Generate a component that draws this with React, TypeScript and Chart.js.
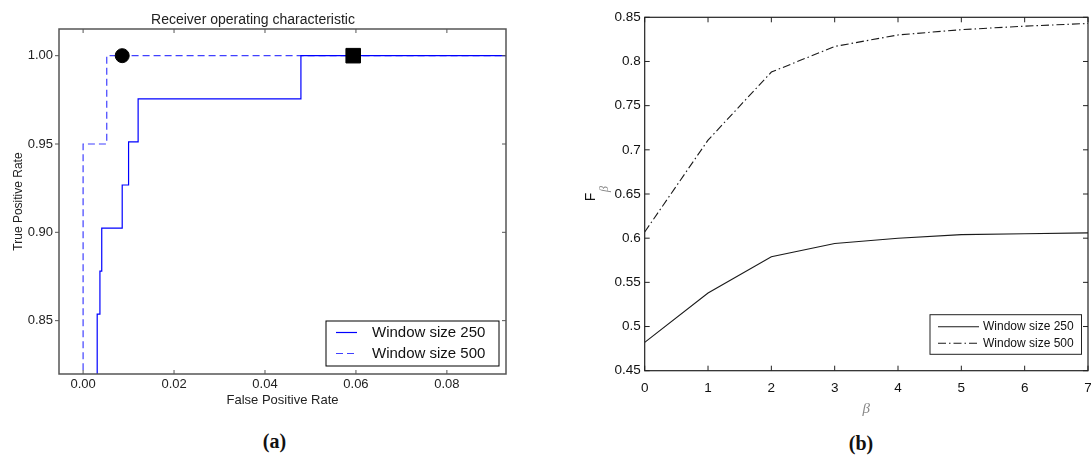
import React, { useEffect, useRef } from 'react';
import { Chart, registerables } from 'chart.js';

Chart.register(...registerables);

// ---------- (a) ROC data ----------
const rocFpr250 = [0, 0.0031, 0.0037, 0.0041, 0.0086, 0.0100, 0.0121, 0.0479, 1.0];
const rocTpr250 = [0, 0.8537, 0.8780, 0.9024, 0.9268, 0.9512, 0.9756, 1.0, 1.0];
const rocFpr500 = [0, 0, 0.0052, 1.0];
const rocTpr500 = [0, 0.95, 1.0, 1.0];
const circleMarkerFpr = [0.0086];
const circleMarkerTpr = [1.0];
const squareMarkerFpr = [0.0594];
const squareMarkerTpr = [1.0];
const rocXTicks = [0, 0.02, 0.04, 0.06, 0.08];
const rocYTicks = [0.85, 0.9, 0.95, 1.0];
const rocLabels = ['Window size 250', 'Window size 500'];

// ---------- (b) F-beta data ----------
const betaValues = [0, 1, 2, 3, 4, 5, 6, 7];
const fbeta250 = [0.482, 0.538, 0.579, 0.594, 0.600, 0.604, 0.605, 0.606];
const fbeta500 = [0.607, 0.711, 0.788, 0.817, 0.830, 0.836, 0.840, 0.843];
const betaTicks = [0, 1, 2, 3, 4, 5, 6, 7];
const fbetaYTicks = [0.45, 0.5, 0.55, 0.6, 0.65, 0.7, 0.75, 0.8, 0.85];
const fbetaLabels = ['Window size 250', 'Window size 500'];

const FONT = "'Liberation Sans', Arial, sans-serif";

const zip = (xs: number[], ys: number[]) => xs.map((x, i) => ({ x, y: ys[i] }));

const frameTicksPlugin = {
  id: 'frameTicks',
  afterDatasetsDraw(chart: any, _args: any, opts: any) {
    const { ctx, chartArea: ca } = chart;
    const xs = chart.scales.x;
    const ys = chart.scales.y;
    ctx.save();
    ctx.strokeStyle = opts.color;
    ctx.lineWidth = opts.width;
    ctx.strokeRect(ca.left, ca.top, ca.right - ca.left, ca.bottom - ca.top);
    ctx.lineWidth = opts.tickWidth;
    ctx.beginPath();
    xs.ticks.forEach((t: any) => {
      const px = xs.getPixelForValue(t.value);
      ctx.moveTo(px, ca.bottom);
      ctx.lineTo(px, ca.bottom - opts.len);
      ctx.moveTo(px, ca.top);
      ctx.lineTo(px, ca.top + opts.len);
    });
    ys.ticks.forEach((t: any) => {
      const py = ys.getPixelForValue(t.value);
      ctx.moveTo(ca.right, py);
      ctx.lineTo(ca.right - opts.len, py);
      ctx.moveTo(ca.left, py);
      ctx.lineTo(opts.leftOutward ? ca.left - opts.len : ca.left + opts.len, py);
    });
    ctx.stroke();
    ctx.restore();
  },
};

const boxLegendPlugin = {
  id: 'boxLegend',
  afterDraw(chart: any, _args: any, opts: any) {
    const { ctx, chartArea: ca } = chart;
    const right = ca.right - opts.offRight;
    const bottom = ca.bottom - opts.offBottom;
    const left = right - opts.w;
    const top = bottom - opts.h;
    ctx.save();
    ctx.fillStyle = '#ffffff';
    ctx.fillRect(left, top, opts.w, opts.h);
    ctx.strokeStyle = opts.borderColor;
    ctx.lineWidth = 1;
    ctx.strokeRect(left, top, opts.w, opts.h);
    const items = chart.data.datasets.filter((d: any) => d.inLegend);
    items.sort((a: any, b: any) => a.legendIndex - b.legendIndex);
    items.forEach((d: any, i: number) => {
      const y = top + opts.rows[i];
      ctx.beginPath();
      ctx.strokeStyle = d.borderColor;
      ctx.lineWidth = d.borderWidth;
      ctx.setLineDash(d.borderDash || []);
      ctx.moveTo(left + opts.lineX0, y);
      ctx.lineTo(left + opts.lineX1, y);
      ctx.stroke();
      ctx.setLineDash([]);
      ctx.fillStyle = opts.textColor;
      ctx.font = `${opts.fontSize}px ${FONT}`;
      ctx.textBaseline = 'middle';
      ctx.textAlign = 'left';
      ctx.fillText(d.label, left + opts.textX, y);
    });
    ctx.restore();
  },
};

const fbetaTitlePlugin = {
  id: 'fbetaTitle',
  afterDraw(chart: any, _args: any, opts: any) {
    const { ctx } = chart;
    ctx.save();
    ctx.translate(opts.x, opts.y);
    ctx.rotate(-Math.PI / 2);
    ctx.textAlign = 'center';
    ctx.textBaseline = 'middle';
    ctx.fillStyle = '#111';
    ctx.font = `14px ${FONT}`;
    ctx.fillText('F', 0, 0);
    ctx.fillStyle = '#888';
    ctx.font = `italic 12px 'Liberation Serif', serif`;
    ctx.fillText('β', 8, 13);
    ctx.restore();
  },
};

function RocChart() {
  const ref = useRef<HTMLCanvasElement>(null);
  useEffect(() => {
    const chart = new Chart(ref.current as HTMLCanvasElement, {
      type: 'line',
      data: {
        datasets: [
          {
            label: 'circle',
            data: zip(circleMarkerFpr, circleMarkerTpr),
            showLine: false,
            pointStyle: 'circle',
            pointRadius: 7,
            pointBackgroundColor: '#000',
            pointBorderColor: '#000',
            borderColor: '#000',
          },
          {
            label: 'square',
            data: zip(squareMarkerFpr, squareMarkerTpr),
            showLine: false,
            pointStyle: 'rect',
            pointRadius: 10.3,
            pointBackgroundColor: '#000',
            pointBorderColor: '#000',
            borderColor: '#000',
          },
          {
            label: rocLabels[0],
            inLegend: true,
            legendIndex: 0,
            data: zip(rocFpr250, rocTpr250),
            stepped: 'before',
            borderColor: '#0000ff',
            borderWidth: 1.2,
            pointRadius: 0,
            fill: false,
          },
          {
            label: rocLabels[1],
            inLegend: true,
            legendIndex: 1,
            data: zip(rocFpr500, rocTpr500),
            stepped: 'before',
            borderColor: '#4040ff',
            borderWidth: 1.2,
            borderDash: [7, 4],
            pointRadius: 0,
            fill: false,
          },
        ] as any,
      },
      options: {
        animation: false,
        responsive: false,
        maintainAspectRatio: false,
        layout: { padding: { top: 0, right: 24, bottom: 0, left: 0 } },
        scales: {
          x: {
            type: 'linear',
            min: -0.0053,
            max: 0.093,
            afterBuildTicks: (s: any) => { s.ticks = rocXTicks.map((v) => ({ value: v })); },
            afterFit: (s: any) => { s.height = 41; s.paddingLeft = 0; s.paddingRight = 0; },
            grid: { display: false, drawTicks: false },
            border: { display: false },
            ticks: {
              font: { family: FONT, size: 13 },
              color: '#222',
              padding: 3,
              maxRotation: 0,
              autoSkip: false,
              callback: (v: any) => Number(v).toFixed(2),
            },
            title: {
              display: true,
              text: 'False Positive Rate',
              color: '#222',
              font: { family: FONT, size: 13 },
              padding: { top: 0, bottom: 7 },
            },
          },
          y: {
            type: 'linear',
            min: 0.8198,
            max: 1.0151,
            afterBuildTicks: (s: any) => { s.ticks = rocYTicks.map((v) => ({ value: v })); },
            afterFit: (s: any) => { s.width = 59; s.paddingTop = 0; s.paddingBottom = 0; },
            grid: { display: false, drawTicks: false },
            border: { display: false },
            ticks: {
              font: { family: FONT, size: 13 },
              color: '#222',
              padding: 6,
              autoSkip: false,
              callback: (v: any) => Number(v).toFixed(2),
            },
            title: {
              display: true,
              text: 'True Positive Rate',
              color: '#222',
              font: { family: FONT, size: 12 },
              padding: { top: 11, bottom: 0 },
            },
          },
        },
        plugins: {
          legend: { display: false },
          tooltip: { enabled: false },
          title: {
            display: true,
            text: 'Receiver operating characteristic',
            color: '#222',
            font: { family: FONT, size: 14, weight: 'normal' },
            padding: { top: 11.6, bottom: 0.6 },
          },
          frameTicks: { color: '#555', width: 1.5, tickWidth: 1, len: 4, leftOutward: true },
          boxLegend: {
            offRight: 7, offBottom: 8, w: 173, h: 45,
            rows: [11.5, 32.5], lineX0: 10, lineX1: 31, textX: 46,
            fontSize: 15, textColor: '#111', borderColor: '#000',
          },
        } as any,
      },
      plugins: [frameTicksPlugin, boxLegendPlugin],
    } as any);
    return () => chart.destroy();
  }, []);
  return (
    <canvas
      ref={ref}
      width={530}
      height={415}
      style={{ position: 'absolute', left: 0, top: 0, width: 530, height: 415 }}
    />
  );
}

function FbetaChart() {
  const ref = useRef<HTMLCanvasElement>(null);
  useEffect(() => {
    const chart = new Chart(ref.current as HTMLCanvasElement, {
      type: 'line',
      data: {
        datasets: [
          {
            label: fbetaLabels[0],
            inLegend: true,
            legendIndex: 0,
            data: zip(betaValues, fbeta250),
            borderColor: '#1a1a1a',
            borderWidth: 1.1,
            pointRadius: 0,
            tension: 0,
            fill: false,
          },
          {
            label: fbetaLabels[1],
            inLegend: true,
            legendIndex: 1,
            data: zip(betaValues, fbeta500),
            borderColor: '#1a1a1a',
            borderWidth: 1.1,
            borderDash: [8, 3, 1.5, 3],
            pointRadius: 0,
            tension: 0,
            fill: false,
          },
        ] as any,
      },
      options: {
        animation: false,
        responsive: false,
        maintainAspectRatio: false,
        layout: { padding: { top: 17.3, right: 3, bottom: 0, left: 0 } },
        scales: {
          x: {
            type: 'linear',
            min: 0,
            max: 7,
            afterBuildTicks: (s: any) => { s.ticks = betaTicks.map((v) => ({ value: v })); },
            afterFit: (s: any) => { s.height = 49.3; s.paddingLeft = 0; s.paddingRight = 0; },
            grid: { display: false, drawTicks: false },
            border: { display: false },
            ticks: {
              font: { family: FONT, size: 13.5 },
              color: '#111',
              padding: 9,
              maxRotation: 0,
              autoSkip: false,
              callback: (v: any) => String(v),
            },
            title: {
              display: true,
              text: 'β',
              color: '#888',
              font: { family: "'Liberation Serif', serif", size: 15, style: 'italic' },
              padding: { top: 0, bottom: 2 },
            },
          },
          y: {
            type: 'linear',
            min: 0.45,
            max: 0.85,
            afterBuildTicks: (s: any) => { s.ticks = fbetaYTicks.map((v) => ({ value: v })); },
            afterFit: (s: any) => { s.width = 104.7; s.paddingTop = 0; s.paddingBottom = 0; },
            grid: { display: false, drawTicks: false },
            border: { display: false },
            ticks: {
              font: { family: FONT, size: 13.5 },
              color: '#111',
              padding: 4,
              autoSkip: false,
              callback: (v: any) => String(Number(Number(v).toFixed(2))),
            },
          },
        },
        plugins: {
          legend: { display: false },
          tooltip: { enabled: false },
          frameTicks: { color: '#222', width: 1.2, tickWidth: 1, len: 5, leftOutward: false },
          boxLegend: {
            offRight: 6.5, offBottom: 16.4, w: 151.5, h: 39.6,
            rows: [12, 28.6], lineX0: 8, lineX1: 49, textX: 53,
            fontSize: 12, textColor: '#111', borderColor: '#222',
          },
          fbetaTitle: { x: 51.5, y: 197 },
        } as any,
      },
      plugins: [frameTicksPlugin, boxLegendPlugin, fbetaTitlePlugin],
    } as any);
    return () => chart.destroy();
  }, []);
  return (
    <canvas
      ref={ref}
      width={551}
      height={420}
      style={{ position: 'absolute', left: 540, top: 0, width: 551, height: 420 }}
    />
  );
}

const captionStyle: React.CSSProperties = {
  position: 'absolute',
  transform: 'translate(-50%, -50%)',
  fontFamily: "'Liberation Serif', 'DejaVu Serif', serif",
  fontWeight: 'bold',
  fontSize: 20,
  color: '#111',
  whiteSpace: 'nowrap',
  lineHeight: 1,
};

export default function App() {
  return (
    <div
      style={{
        position: 'fixed',
        left: 0,
        top: 0,
        width: 1091,
        height: 457,
        background: '#ffffff',
        overflow: 'hidden',
      }}
    >
      <RocChart />
      <FbetaChart />
      <div style={{ ...captionStyle, left: 274.5, top: 441 }}>(a)</div>
      <div style={{ ...captionStyle, left: 861, top: 443 }}>(b)</div>
    </div>
  );
}
